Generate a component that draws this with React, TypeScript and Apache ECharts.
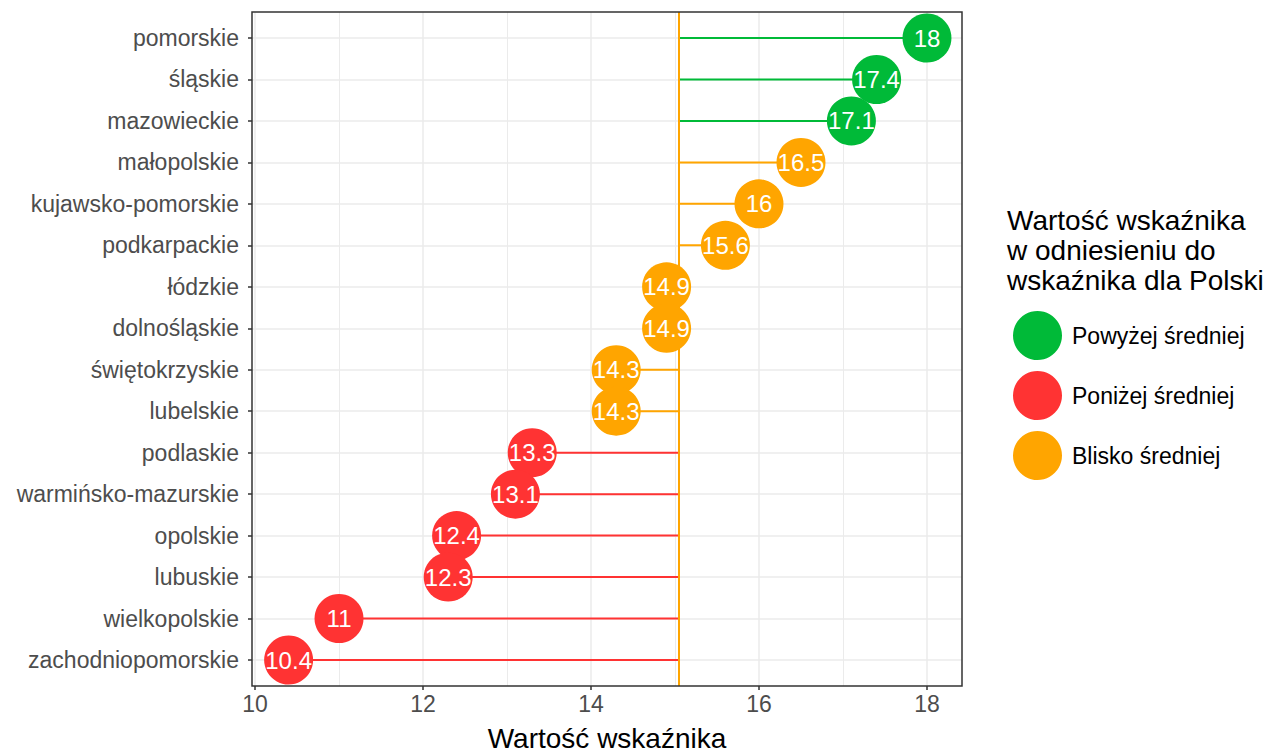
import React, { useEffect, useRef } from "react";
import * as echarts from "echarts";

const regions = [
  "pomorskie",
  "śląskie",
  "mazowieckie",
  "małopolskie",
  "kujawsko-pomorskie",
  "podkarpackie",
  "łódzkie",
  "dolnośląskie",
  "świętokrzyskie",
  "lubelskie",
  "podlaskie",
  "warmińsko-mazurskie",
  "opolskie",
  "lubuskie",
  "wielkopolskie",
  "zachodniopomorskie",
];
const values = [18, 17.4, 17.1, 16.5, 16, 15.6, 14.9, 14.9, 14.3, 14.3, 13.3, 13.1, 12.4, 12.3, 11, 10.4];
const groups = [
  "above", "above", "above",
  "near", "near", "near", "near", "near", "near", "near",
  "below", "below", "below", "below", "below", "below",
];
const polandValue = 15.04;
const groupNames: Record<string, string> = {
  above: "Powyżej średniej",
  below: "Poniżej średniej",
  near: "Blisko średniej",
};
const groupOrder = ["above", "below", "near"];
const colors: Record<string, string> = {
  above: "#00BA38",
  below: "#FF3333",
  near: "#FFA500",
};
const xTicks = [10, 12, 14, 16, 18];

const FONT = "Liberation Sans, Arial, Helvetica, sans-serif";

export default function App() {
  const ref = useRef<HTMLDivElement>(null);
  useEffect(() => {
    if (!ref.current) return;
    const chart = echarts.init(ref.current, undefined, { renderer: "svg" });

    const stemData = values.map((v, i) => [v, i, polandValue]);

    const scatterSeries = groupOrder.map((g) => ({
      name: groupNames[g],
      type: "scatter",
      xAxisIndex: 1,
      yAxisIndex: 1,
      symbol: "circle",
      symbolSize: 49,
      z: 10,
      itemStyle: { color: colors[g], opacity: 1 },
      label: {
        show: true,
        position: "inside",
        color: "#ffffff",
        fontSize: 24,
        fontFamily: FONT,
        formatter: (p: any) => String(p.value[0]),
      },
      emphasis: { disabled: true },
      data: values
        .map((v, i) => ({ v, i }))
        .filter((d) => groups[d.i] === g)
        .map((d) => [d.v, regions[d.i]]),
    }));

    const option: any = {
      animation: false,
      textStyle: { fontFamily: FONT },
      grid: [
        { left: 255, top: 12, width: 672, height: 674, show: false },
        { left: 252, top: 38, width: 710, height: 622, show: false },
      ],
      xAxis: [
        {
          type: "value",
          gridIndex: 0,
          min: xTicks[0],
          max: xTicks[xTicks.length - 1],
          interval: 2,
          axisLine: { show: false },
          axisTick: { show: true, length: 4, lineStyle: { color: "#333333", width: 1.5 } },
          axisLabel: { show: true, color: "#4d4d4d", fontSize: 23, margin: 6, fontFamily: FONT },
          splitLine: { show: true, lineStyle: { color: "#ebebeb", width: 1.5 } },
          minorTick: { show: false, splitNumber: 2 },
          minorSplitLine: { show: true, lineStyle: { color: "#ebebeb", width: 1 } },
        },
        {
          type: "value",
          gridIndex: 1,
          min: 9.964,
          max: 18.417,
          show: false,
        },
      ],
      yAxis: [
        {
          type: "value",
          gridIndex: 0,
          show: false,
          min: 0,
          max: 1,
          splitLine: { show: false },
        },
        {
          type: "category",
          gridIndex: 1,
          data: regions,
          inverse: true,
          boundaryGap: false,
          axisLine: { show: false },
          axisTick: { show: true, length: 4, alignWithLabel: true, lineStyle: { color: "#333333", width: 1.5 } },
          axisLabel: { show: true, color: "#4d4d4d", fontSize: 23, margin: 13, fontFamily: FONT, interval: 0 },
          splitLine: { show: true, interval: 0, lineStyle: { color: "#ebebeb", width: 1.5 } },
        },
      ],
      legend: {
        orient: "vertical",
        left: 1008,
        top: 306,
        itemWidth: 49,
        itemHeight: 49,
        itemGap: 11,
        icon: "circle",
        selectedMode: false,
        data: groupOrder.map((g) => groupNames[g]),
        textStyle: { fontSize: 23, color: "#000000", fontFamily: FONT, padding: [0, 0, 0, 5] },
      },
      series: [
        {
          type: "custom",
          xAxisIndex: 1,
          yAxisIndex: 1,
          z: 2,
          silent: true,
          renderItem: (params: any, api: any) => {
            const idx = params.dataIndex;
            const y = api.value(1);
            const p0 = api.coord([api.value(2), y]);
            const p1 = api.coord([api.value(0), y]);
            return {
              type: "line",
              shape: { x1: p0[0], y1: p0[1], x2: p1[0], y2: p1[1] },
              style: { stroke: colors[groups[idx]], lineWidth: 2 },
            };
          },
          data: stemData,
        },
        {
          type: "line",
          xAxisIndex: 1,
          yAxisIndex: 1,
          data: [],
          silent: true,
          z: 3,
          markLine: {
            silent: true,
            symbol: ["none", "none"],
            label: { show: false },
            lineStyle: { color: "#FFA500", width: 2, type: "solid" },
            data: [[{ coord: [polandValue, 0], y: 12 }, { coord: [polandValue, 0], y: 686 }]],
          },
        },
        ...scatterSeries,
      ],
      graphic: [
        {
          type: "rect",
          shape: { x: 252, y: 12, width: 710, height: 674 },
          style: { fill: "none", stroke: "#333333", lineWidth: 1.5 },
          z: 100,
          silent: true,
        },
        {
          type: "text",
          x: 607,
          y: 738,
          style: {
            text: "Wartość wskaźnika",
            fontSize: 28,
            fill: "#000000",
            fontFamily: FONT,
            textAlign: "center",
            textVerticalAlign: "middle",
          },
        },
        {
          type: "text",
          x: 1007,
          y: 205,
          style: {
            text: "Wartość wskaźnika\nw odniesieniu do\nwskaźnika dla Polski",
            fontSize: 28,
            lineHeight: 30,
            fill: "#000000",
            fontFamily: FONT,
            textAlign: "left",
            textVerticalAlign: "top",
          },
        },
      ],
    };
    chart.setOption(option);
    return () => chart.dispose();
  }, []);
  return (
    <div
      ref={ref}
      style={{ position: "fixed", left: 0, top: 0, width: 1278, height: 753, background: "#ffffff" }}
    />
  );
}
